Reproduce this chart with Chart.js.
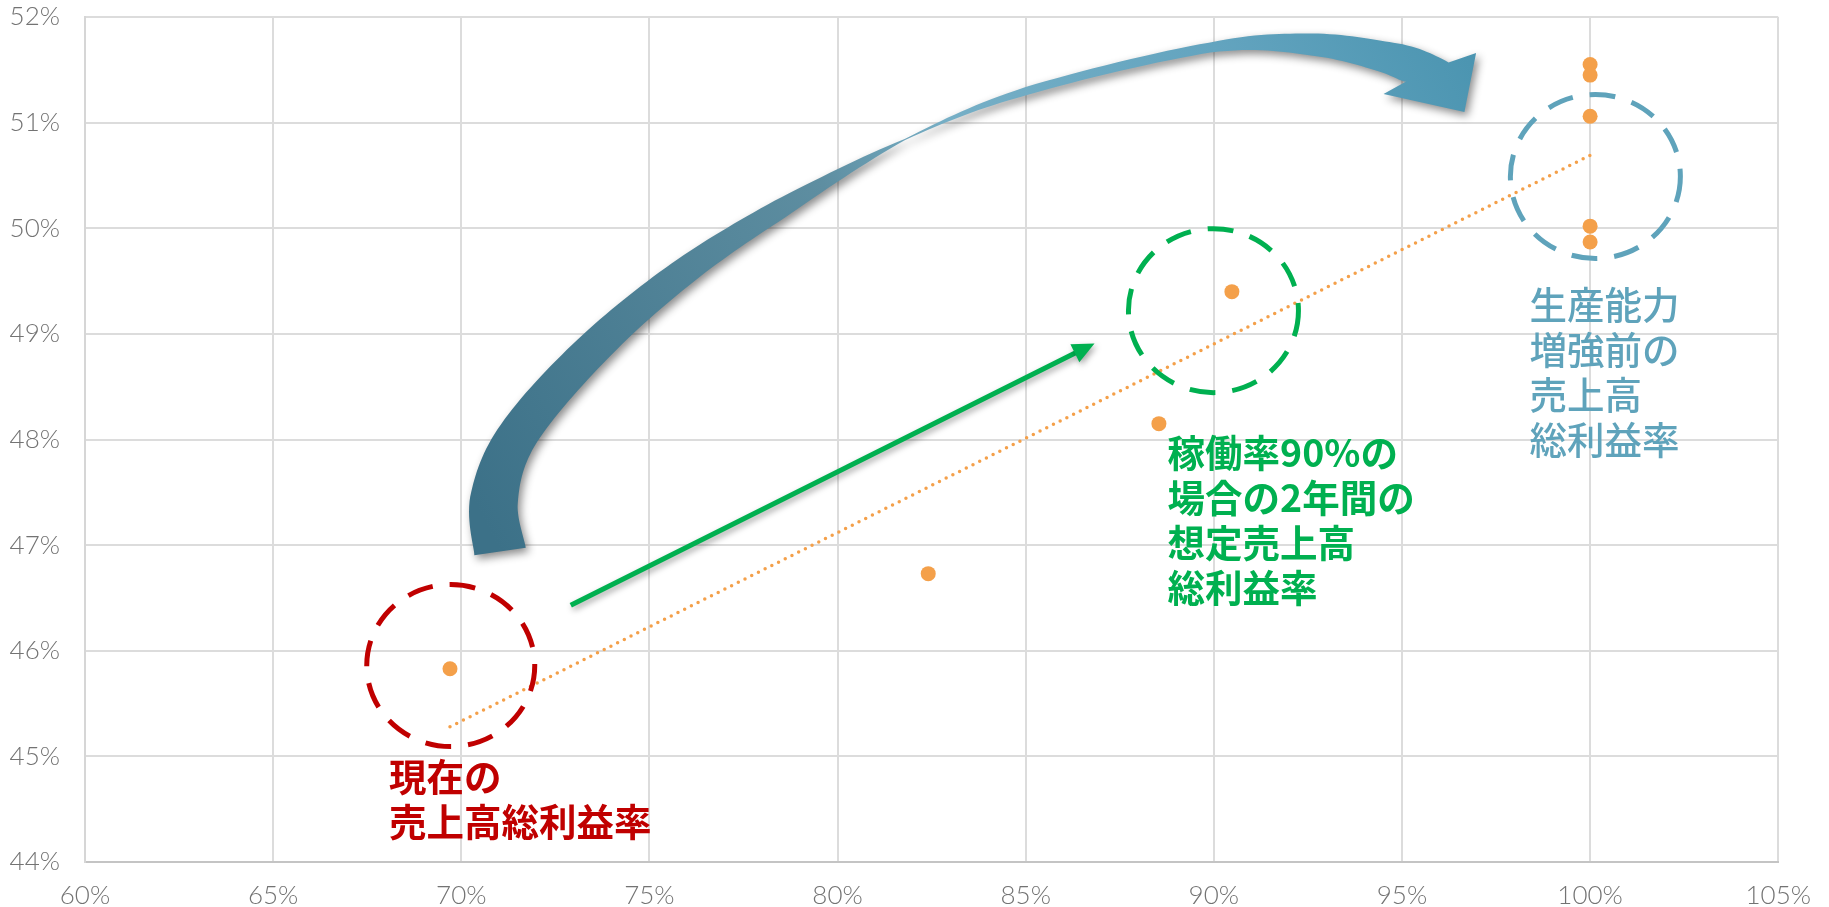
<!DOCTYPE html>
<html>
<head>
<meta charset="utf-8">
<script src="https://cdn.jsdelivr.net/npm/chart.js@4/dist/chart.umd.min.js"></script>
<style>
  body { margin: 0; background: #fff; }
  canvas { display: block; }
</style>
</head>
<body>
<canvas id="grafico" width="1829" height="907"></canvas>
<script>
// 稼働率 (x) と 売上高総利益率 (y)
const utilization = [69.7, 82.41, 88.54, 90.48, 100, 100, 100, 100, 100];
const grossMargin = [45.83, 46.73, 48.15, 49.40, 51.55, 51.45, 51.06, 50.02, 49.87];

// 近似直線の両端
const trendX = [69.7, 100];
const trendY = [45.28, 50.69];

const xTicks = [60, 65, 70, 75, 80, 85, 90, 95, 100, 105];
const yTicks = [44, 45, 46, 47, 48, 49, 50, 51, 52];

const labelCurrent = ['現在の', '売上高総利益率'];
const labelPlanned = ['稼働率90%の', '場合の2年間の', '想定売上高', '総利益率'];
const labelBefore = ['生産能力', '増強前の', '売上高', '総利益率'];

// annotation placement (in axis units)
const notes = {
  circles: [
    { c: [69.72, 45.86], rx: 84, ry: 81, color: '#C00000' },
    { c: [89.99, 49.22], rx: 85, ry: 82, color: '#00B050' },
    { c: [100.14, 50.49], rx: 85, ry: 82, color: '#5FA3BB' }
  ],
  texts: [
    { at: [68.08, 44.805], lines: labelCurrent, color: '#C00000', weight: 700 },
    { at: [88.77, 47.874], lines: labelPlanned, color: '#00B050', weight: 700 },
    { at: [98.39, 49.28], lines: labelBefore, color: '#5FA3BB', weight: 500 }
  ],
  straight: { from: [72.91, 46.43], to: [86.83, 48.91], color: '#00B050' },
  curve: {
    guide: [[71.03, 46.94], [70.87, 47.43], [71.50, 48.04], [73.42, 48.83], [75.81, 49.56],
            [78.46, 50.18], [81.79, 50.84], [85.03, 51.30], [89.89, 51.71], [92.60, 51.74],
            [94.67, 51.61], [95.68, 51.48]],
    widths: [52, 48, 40, 35, 28, 20, 1, 8, 10, 22, 32, 46],
    outerBarb: [96.97, 51.66],
    tip: [96.66, 51.10],
    innerBarb: [94.51, 51.27]
  }
};

const annotate = {
  id: 'annotate',
  afterDatasetsDraw(chart) {
    const { ctx, scales: { x, y } } = chart;
    const px = p => [x.getPixelForValue(p[0]), y.getPixelForValue(p[1])];

    // curved ribbon arrow
    const cv = notes.curve;
    const g = cv.guide.map(px);
    const samples = [];
    for (let i = 0; i < g.length - 1; i++) {
      const p0 = g[Math.max(i - 1, 0)], p1 = g[i], p2 = g[i + 1], p3 = g[Math.min(i + 2, g.length - 1)];
      const steps = 16;
      for (let k = 0; k < steps; k++) {
        const s = k / steps;
        const pt = [0, 1].map(j => 0.5 * (2 * p1[j] + (-p0[j] + p2[j]) * s +
          (2 * p0[j] - 5 * p1[j] + 4 * p2[j] - p3[j]) * s * s +
          (-p0[j] + 3 * p1[j] - 3 * p2[j] + p3[j]) * s * s * s));
        samples.push({ p: pt, w: cv.widths[i] + (cv.widths[i + 1] - cv.widths[i]) * s, seg: i, s });
      }
    }
    samples.push({ p: g[g.length - 1], w: cv.widths[cv.widths.length - 1], seg: g.length - 2, s: 1 });

    const ob = px(cv.outerBarb), ib = px(cv.innerBarb), tip = px(cv.tip);
    let hn = [ob[0] - ib[0], ob[1] - ib[1]];
    const hl = Math.hypot(hn[0], hn[1]);
    hn = [hn[0] / hl, hn[1] / hl];

    const left = [], right = [];
    samples.forEach((sm, i) => {
      const a = samples[Math.max(i - 1, 0)].p, b = samples[Math.min(i + 1, samples.length - 1)].p;
      let dx = b[0] - a[0], dy = b[1] - a[1];
      const l = Math.hypot(dx, dy) || 1;
      let n = [dy / l, -dx / l];
      if (sm.seg === g.length - 2) {
        n = [n[0] * (1 - sm.s) + hn[0] * sm.s, n[1] * (1 - sm.s) + hn[1] * sm.s];
        const nl = Math.hypot(n[0], n[1]);
        n = [n[0] / nl, n[1] / nl];
      }
      const h = sm.w / 2;
      left.push([sm.p[0] + n[0] * h, sm.p[1] + n[1] * h]);
      right.push([sm.p[0] - n[0] * h, sm.p[1] - n[1] * h]);
    });

    ctx.save();
    const start = g[0];
    const grad = ctx.createLinearGradient(start[0], start[1], tip[0], ob[1]);
    grad.addColorStop(0, '#3c7188');
    grad.addColorStop(0.42, '#5e8ea1');
    grad.addColorStop(0.55, '#76afc6');
    grad.addColorStop(0.8, '#63a4bf');
    grad.addColorStop(1, '#4c95b1');
    ctx.beginPath();
    ctx.moveTo(left[0][0], left[0][1]);
    left.forEach(p => ctx.lineTo(p[0], p[1]));
    ctx.lineTo(ob[0], ob[1]);
    ctx.lineTo(tip[0], tip[1]);
    ctx.lineTo(ib[0], ib[1]);
    for (let i = right.length - 1; i >= 0; i--) ctx.lineTo(right[i][0], right[i][1]);
    ctx.closePath();
    ctx.shadowColor = 'rgba(0,0,0,0.45)';
    ctx.shadowBlur = 8;
    ctx.shadowOffsetX = 3;
    ctx.shadowOffsetY = 4;
    ctx.fillStyle = grad;
    ctx.fill();
    ctx.restore();

    // straight green arrow
    const st = notes.straight;
    const a = px(st.from), b = px(st.to);
    const ang = Math.atan2(b[1] - a[1], b[0] - a[0]);
    const headLen = 22, headHalf = 10;
    const base = [b[0] - Math.cos(ang) * headLen, b[1] - Math.sin(ang) * headLen];
    ctx.save();
    ctx.shadowColor = 'rgba(0,0,0,0.35)';
    ctx.shadowBlur = 6;
    ctx.shadowOffsetX = 2;
    ctx.shadowOffsetY = 3;
    ctx.strokeStyle = st.color;
    ctx.fillStyle = st.color;
    ctx.lineWidth = 5;
    ctx.beginPath();
    ctx.moveTo(a[0], a[1]);
    ctx.lineTo(base[0] + Math.cos(ang) * 2, base[1] + Math.sin(ang) * 2);
    ctx.stroke();
    ctx.beginPath();
    ctx.moveTo(b[0], b[1]);
    ctx.lineTo(base[0] - Math.sin(ang) * headHalf, base[1] + Math.cos(ang) * headHalf);
    ctx.lineTo(base[0] + Math.sin(ang) * headHalf, base[1] - Math.cos(ang) * headHalf);
    ctx.closePath();
    ctx.fill();
    ctx.restore();

    // dashed circles
    notes.circles.forEach(c => {
      const p = px(c.c);
      ctx.save();
      ctx.strokeStyle = c.color;
      ctx.lineWidth = 5;
      ctx.setLineDash([26, 17]);
      ctx.beginPath();
      ctx.ellipse(p[0], p[1], c.rx, c.ry, 0, 0, Math.PI * 2);
      ctx.stroke();
      ctx.restore();
    });

    // texts
    notes.texts.forEach(t => {
      const p = px(t.at);
      ctx.save();
      ctx.fillStyle = t.color;
      ctx.font = `${t.weight} 37.5px "Noto Sans CJK JP"`;
      ctx.textBaseline = 'middle';
      ctx.textAlign = 'left';
      t.lines.forEach((line, i) => ctx.fillText(line, p[0], p[1] + i * 45));
      ctx.restore();
    });
  }
};

const tickFont = { family: 'Lato', size: 26, weight: 300 };

new Chart(document.getElementById('grafico').getContext('2d'), {
  type: 'scatter',
  data: {
    datasets: [
      {
        label: '近似直線',
        data: trendX.map((v, i) => ({ x: v, y: trendY[i] })),
        showLine: true,
        borderColor: '#F4A04A',
        borderWidth: 3.5,
        borderDash: [0, 7.5],
        borderCapStyle: 'round',
        pointRadius: 0,
        fill: false
      },
      {
        label: '売上高総利益率',
        data: utilization.map((v, i) => ({ x: v, y: grossMargin[i] })),
        backgroundColor: '#F4A04A',
        borderWidth: 0,
        pointRadius: 7.5,
        pointHoverRadius: 7.5
      }
    ]
  },
  options: {
    responsive: false,
    animation: false,
    layout: { padding: { top: 17, right: 50, bottom: 0, left: 0 } },
    plugins: { legend: { display: false }, tooltip: { enabled: false } },
    scales: {
      x: {
        type: 'linear',
        min: 60,
        max: 105,
        afterBuildTicks: s => { s.ticks = xTicks.map(v => ({ value: v })); },
        afterFit: s => { s.height = 45; },
        grid: { color: '#dcdcdc', lineWidth: 2, drawTicks: false },
        border: { color: '#c4c4c4', width: 2 },
        ticks: { color: '#737373', font: tickFont, padding: 18, callback: v => v + '%' }
      },
      y: {
        type: 'linear',
        min: 44,
        max: 52,
        afterBuildTicks: s => { s.ticks = yTicks.map(v => ({ value: v })); },
        afterFit: s => { s.width = 85; s.paddingTop = 10; s.paddingBottom = 10; },
        grid: { color: '#dcdcdc', lineWidth: 2, drawTicks: false },
        border: { color: '#d6d6d6', width: 2 },
        ticks: { color: '#737373', font: tickFont, padding: 25, callback: v => v + '%' }
      }
    }
  },
  plugins: [annotate]
});
</script>
</body>
</html>
